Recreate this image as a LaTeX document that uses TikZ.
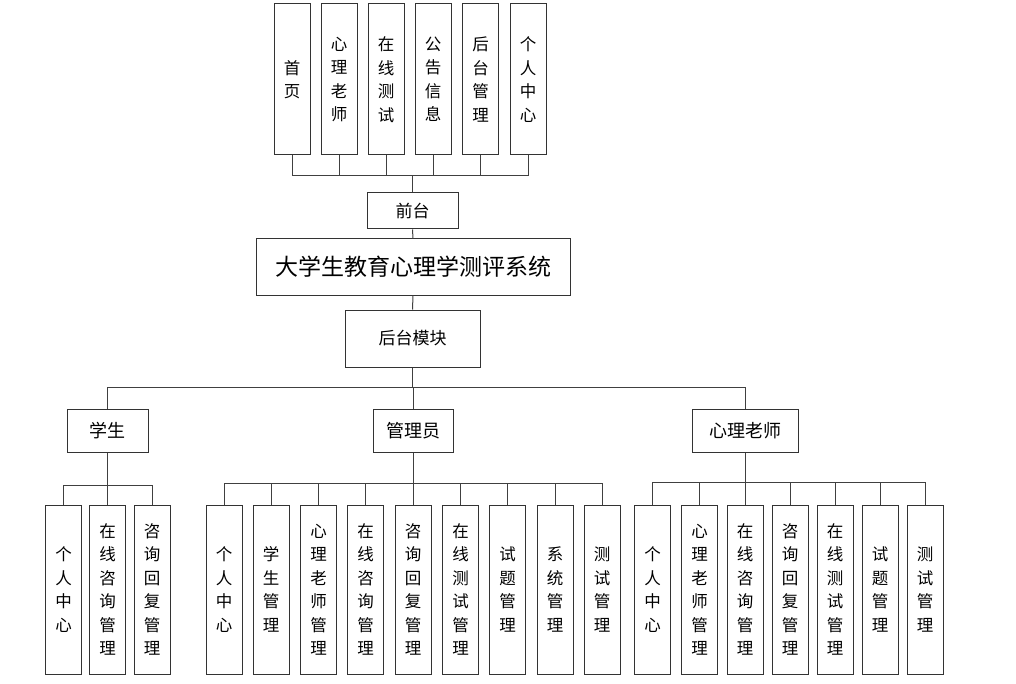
\documentclass[tikz,border=0pt]{standalone}
\usepackage{fontspec}
\setmainfont{Noto Sans CJK SC}
\usetikzlibrary{positioning}

\begin{document}
\begin{tikzpicture}[x=1pt,y=-1pt,
  box/.style={draw=black!80,line width=1pt,fill=white,inner sep=0pt,align=center},
  topbox/.style={box,minimum width=36pt,minimum height=151pt,font=\fontsize{16.5}{23.5}\selectfont},
  leafbox/.style={box,minimum width=36pt,minimum height=169pt,font=\fontsize{16.5}{23.5}\selectfont},
  link/.style={draw=black!75,line width=1pt}]

\useasboundingbox (0,0) rectangle (1016,684);

% front page modules
\node[topbox] (f1) at (292, 79.5) {首\\页};
\node[topbox] (f2) at (339, 79.5) {心\\理\\老\\师};
\node[topbox] (f3) at (386, 79.5) {在\\线\\测\\试};
\node[topbox] (f4) at (433, 79.5) {公\\告\\信\\息};
\node[topbox] (f5) at (480.5, 79.5) {后\\台\\管\\理};
\node[topbox] (f6) at (528, 79.5) {个\\人\\中\\心};

\node[box,minimum width=91pt,minimum height=36pt,font=\fontsize{17}{20}\selectfont] (qt) at (412.5, 211) {前台};
\node[box,minimum width=314pt,minimum height=56pt,font=\fontsize{23}{26}\selectfont] (sys) at (413, 267) {大学生教育心理学测评系统};
\node[box,minimum width=135pt,minimum height=57pt,font=\fontsize{17}{20}\selectfont] (ht) at (412.5, 338.5) {后台模块};

% roles
\node[box,minimum width=81pt,minimum height=43pt,font=\fontsize{18}{20}\selectfont] (xs) at (107.5, 430.5) {学生};
\node[box,minimum width=80pt,minimum height=43pt,font=\fontsize{18}{20}\selectfont] (gly) at (413, 430.5) {管理员};
\node[box,minimum width=106pt,minimum height=43pt,font=\fontsize{18}{20}\selectfont] (ls) at (745, 430.5) {心理老师};

% student
\node[leafbox] (xs1) at (63.5, 589.5) {个\\人\\中\\心};
\node[leafbox] (xs2) at (107.5, 589.5) {在\\线\\咨\\询\\管\\理};
\node[leafbox] (xs3) at (152, 589.5) {咨\\询\\回\\复\\管\\理};

% admin
\node[leafbox] (gl1) at (224, 589.5) {个\\人\\中\\心};
\node[leafbox] (gl2) at (271, 589.5) {学\\生\\管\\理};
\node[leafbox] (gl3) at (318.5, 589.5) {心\\理\\老\\师\\管\\理};
\node[leafbox] (gl4) at (365.5, 589.5) {在\\线\\咨\\询\\管\\理};
\node[leafbox] (gl5) at (413, 589.5) {咨\\询\\回\\复\\管\\理};
\node[leafbox] (gl6) at (460.5, 589.5) {在\\线\\测\\试\\管\\理};
\node[leafbox] (gl7) at (507.5, 589.5) {试\\题\\管\\理};
\node[leafbox] (gl8) at (555, 589.5) {系\\统\\管\\理};
\node[leafbox] (gl9) at (602, 589.5) {测\\试\\管\\理};

% teacher
\node[leafbox] (ls1) at (652.5, 589.5) {个\\人\\中\\心};
\node[leafbox] (ls2) at (699.5, 589.5) {心\\理\\老\\师\\管\\理};
\node[leafbox] (ls3) at (745, 589.5) {在\\线\\咨\\询\\管\\理};
\node[leafbox] (ls4) at (790, 589.5) {咨\\询\\回\\复\\管\\理};
\node[leafbox] (ls5) at (835, 589.5) {在\\线\\测\\试\\管\\理};
\node[leafbox] (ls6) at (880, 589.5) {试\\题\\管\\理};
\node[leafbox] (ls7) at (925, 589.5) {测\\试\\管\\理};

% bus points
\coordinate (busF) at (412.5, 176);
\coordinate (busH) at (412.5, 387);
\coordinate (busS) at (107.5, 485);
\coordinate (busA) at (413, 483);
\coordinate (busT) at (745, 482);

\draw[link] (qt.north) -- (busF);
\draw[link] (f1.south) |- (busF);
\draw[link] (f2.south) |- (busF);
\draw[link] (f3.south) |- (busF);
\draw[link] (f4.south) |- (busF);
\draw[link] (f5.south) |- (busF);
\draw[link] (f6.south) |- (busF);

\draw[link] (qt.south) -- (sys.north);
\draw[link] (sys.south) -- (ht.north);

\draw[link] (ht.south) -- (busH);
\draw[link] (xs.north) |- (busH);
\draw[link] (gly.north) |- (busH);
\draw[link] (ls.north) |- (busH);

\draw[link] (xs.south) -- (busS);
\draw[link] (xs1.north) |- (busS);
\draw[link] (xs2.north) |- (busS);
\draw[link] (xs3.north) |- (busS);

\draw[link] (gly.south) -- (busA);
\draw[link] (gl1.north) |- (busA);
\draw[link] (gl2.north) |- (busA);
\draw[link] (gl3.north) |- (busA);
\draw[link] (gl4.north) |- (busA);
\draw[link] (gl5.north) |- (busA);
\draw[link] (gl6.north) |- (busA);
\draw[link] (gl7.north) |- (busA);
\draw[link] (gl8.north) |- (busA);
\draw[link] (gl9.north) |- (busA);

\draw[link] (ls.south) -- (busT);
\draw[link] (ls1.north) |- (busT);
\draw[link] (ls2.north) |- (busT);
\draw[link] (ls3.north) |- (busT);
\draw[link] (ls4.north) |- (busT);
\draw[link] (ls5.north) |- (busT);
\draw[link] (ls6.north) |- (busT);
\draw[link] (ls7.north) |- (busT);

\end{tikzpicture}
\end{document}
